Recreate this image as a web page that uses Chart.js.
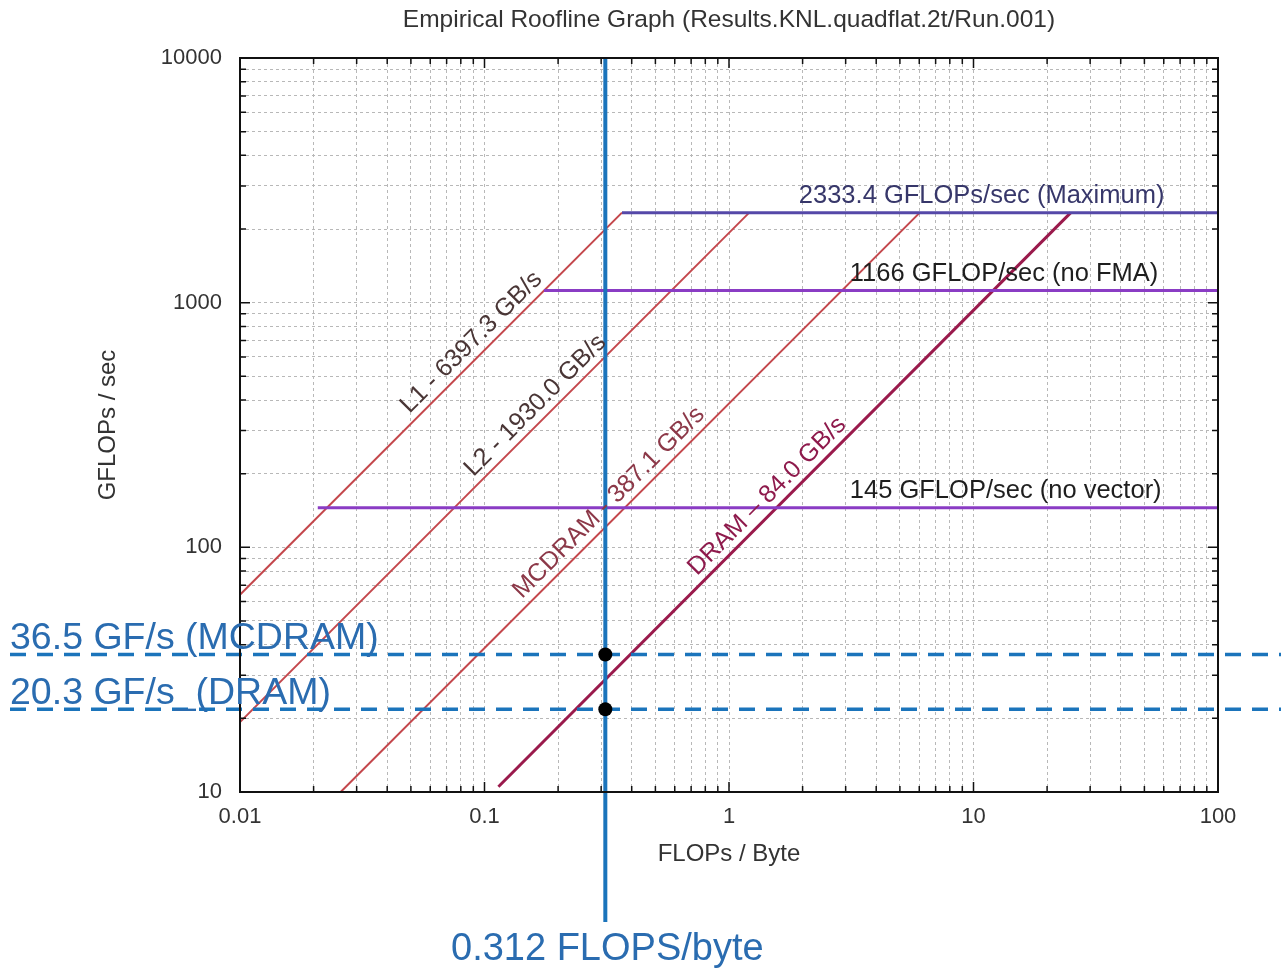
<!DOCTYPE html>
<html lang="en">
<head>
<meta charset="UTF-8">
<title>Empirical Roofline Graph</title>
<script src="https://cdn.jsdelivr.net/npm/chart.js"></script>
<style>
  body { margin: 0; background: #fff; }
  .wrap { width: 1281px; height: 968px; position: relative; }
</style>
</head>
<body>
<div class="wrap"><canvas id="roofline"></canvas></div>
<script>
// bandwidth roofs, x = FLOPs/Byte, y = GFLOPs/sec
const roofNames = ['L1 - 6397.3 GB/s', 'L2 - 1930.0 GB/s', 'MCDRAM - 387.1 GB/s', 'DRAM \u2013 84.0 GB/s'];
const roofX = [[0.01, 0.365], [0.01, 1.21], [0.0258, 6.03], [0.114, 25]];
const roofY = [[64, 2333.4], [19.3, 2333.4], [10, 2333.4], [10.5, 2333.4]];
const roofLabelAt = [0.052, 0.095, 0.15, 0.78];

// compute ceilings
const ceilNames = ['2333.4 GFLOPs/sec (Maximum)', '1166 GFLOP/sec (no FMA)', '145 GFLOP/sec (no vector)'];
const ceilY = [2333.4, 1120, 145];
const ceilFrom = [0.365, 0.175, 0.0208];
const ceilTo = [100, 100, 100];
const ceilLabelAt = [1.93, 3.12, 3.12];

// the kernel that was measured
const kernelAI = 0.312;
const kernelPerf = [36.5, 21.8];
const kernelNames = ['36.5 GF/s (MCDRAM)', '20.3 GF/s_(DRAM)'];
const kernelAILabel = '0.312 FLOPS/byte';

const xTickLabels = ['0.01', '0.1', '1', '10', '100'];
const yTickLabels = ['10', '100', '1000', '10000'];

const FONT = "'Liberation Sans', Arial, sans-serif";
const BLUE = '#1b74bb';
const roofColors = ['#c4474c', '#c4474c', '#c4474c', '#9a1a4c'];
const roofWidths = [2, 2, 2, 3];
const roofTextColors = ['#4a3636', '#4a3636', '#8c3848', '#8e1a4c'];
const ceilColors = ['#5548a8', '#8a3cc4', '#8a3cc4'];
const ceilTextColors = ['#37376a', '#1e1e1e', '#1e1e1e'];

function isDecade(v) {
  const l = Math.log10(v);
  return Math.abs(l - Math.round(l)) < 1e-6;
}
function decadeLabel(list, v) {
  return list.find(t => Math.abs(Math.log10(Number(t)) - Math.log10(v)) < 1e-6) || '';
}
// drop the 1.5 / 15 ticks chart.js adds, keep 1..9 per decade
function keepIntegerTicks(scale) {
  scale.ticks = scale.ticks.filter(t => {
    const m = t.value / Math.pow(10, Math.floor(Math.log10(t.value) + 1e-9));
    return Math.abs(m - Math.round(m)) < 1e-6;
  });
}

const datasets = [];
// index 0 is drawn last -> the dots end up on top
datasets.push({
  data: kernelPerf.map(v => ({ x: kernelAI, y: v })),
  showLine: false, pointRadius: 7, pointBackgroundColor: '#000', pointBorderWidth: 0
});
ceilY.forEach((v, i) => {
  datasets.push({
    data: [{ x: ceilFrom[i], y: v }, { x: ceilTo[i], y: v }],
    showLine: true, pointRadius: 0, borderColor: ceilColors[i], borderWidth: 3
  });
});
roofX.forEach((xs, i) => {
  datasets.push({
    data: [{ x: xs[0], y: roofY[i][0] }, { x: xs[1], y: roofY[i][1] }],
    showLine: true, pointRadius: 0, borderColor: roofColors[i], borderWidth: roofWidths[i]
  });
});

const overlay = {
  id: 'overlay',
  beforeDatasetDraw(chart, args) {
    if (args.index !== 0) return;
    const { ctx, chartArea, scales: { x, y } } = chart;
    ctx.save();
    ctx.strokeStyle = BLUE;
    ctx.lineWidth = 3.5;
    ctx.setLineDash([16, 11]);
    kernelPerf.forEach(v => {
      const py = y.getPixelForValue(v);
      ctx.beginPath(); ctx.moveTo(10, py); ctx.lineTo(chart.width, py); ctx.stroke();
    });
    ctx.setLineDash([]);
    ctx.lineWidth = 4;
    const px = x.getPixelForValue(kernelAI);
    ctx.beginPath(); ctx.moveTo(px, chartArea.top); ctx.lineTo(px, 922); ctx.stroke();
    ctx.restore();
  },
  afterDraw(chart) {
    const { ctx, chartArea: a, scales: { x, y } } = chart;
    ctx.save();

    // frame + inward ticks
    ctx.strokeStyle = '#111';
    ctx.lineWidth = 2;
    ctx.strokeRect(a.left, a.top, a.right - a.left, a.bottom - a.top);
    ctx.lineWidth = 1.5;
    ctx.beginPath();
    x.ticks.forEach(t => {
      const px = x.getPixelForValue(t.value), len = isDecade(t.value) ? 10 : 6;
      ctx.moveTo(px, a.bottom); ctx.lineTo(px, a.bottom - len);
      ctx.moveTo(px, a.top); ctx.lineTo(px, a.top + len);
    });
    y.ticks.forEach(t => {
      const py = y.getPixelForValue(t.value), len = isDecade(t.value) ? 10 : 6;
      ctx.moveTo(a.left, py); ctx.lineTo(a.left + len, py);
      ctx.moveTo(a.right, py); ctx.lineTo(a.right - len, py);
    });
    ctx.stroke();

    // title
    ctx.fillStyle = '#333';
    ctx.font = '24.5px ' + FONT;
    ctx.textAlign = 'center';
    ctx.textBaseline = 'middle';
    ctx.fillText('Empirical Roofline Graph (Results.KNL.quadflat.2t/Run.001)', (a.left + a.right) / 2, 20);

    // roof labels, along the lines
    ctx.textAlign = 'left';
    ctx.textBaseline = 'alphabetic';
    ctx.font = '25px ' + FONT;
    roofNames.forEach((name, i) => {
      const x0 = x.getPixelForValue(roofX[i][0]), y0 = y.getPixelForValue(roofY[i][0]);
      const x1 = x.getPixelForValue(roofX[i][1]), y1 = y.getPixelForValue(roofY[i][1]);
      const lx = x.getPixelForValue(roofLabelAt[i]);
      const ly = y0 + (lx - x0) * (y1 - y0) / (x1 - x0);
      ctx.save();
      ctx.translate(lx, ly);
      ctx.rotate(Math.atan2(y1 - y0, x1 - x0));
      ctx.fillStyle = roofTextColors[i];
      ctx.fillText(name, 0, -8);
      ctx.restore();
    });

    // ceiling labels
    ctx.font = '25.5px ' + FONT;
    ceilNames.forEach((name, i) => {
      ctx.fillStyle = ceilTextColors[i];
      ctx.fillText(name, x.getPixelForValue(ceilLabelAt[i]), y.getPixelForValue(ceilY[i]) - 10);
    });

    // kernel annotations
    ctx.fillStyle = '#2a6cb0';
    ctx.font = '37.5px ' + FONT;
    kernelPerf.forEach((v, i) => {
      ctx.fillText(kernelNames[i], 10, y.getPixelForValue(v) - 5);
    });
    ctx.font = '38px ' + FONT;
    ctx.textAlign = 'center';
    ctx.fillText(kernelAILabel, x.getPixelForValue(kernelAI) + 2, 960);
    ctx.restore();
  }
};

new Chart(document.getElementById('roofline'), {
  type: 'scatter',
  data: { datasets: datasets },
  plugins: [overlay],
  options: {
    responsive: true,
    maintainAspectRatio: false,
    animation: false,
    layout: { padding: { top: 58, right: 63, bottom: 0, left: 0 } },
    plugins: { legend: { display: false }, tooltip: { enabled: false }, title: { display: false } },
    elements: { line: { tension: 0 } },
    scales: {
      x: {
        type: 'logarithmic',
        min: 0.01, max: 100,
        afterBuildTicks: keepIntegerTicks,
        afterFit(s) { s.height = 176; },
        grid: { color: '#b8b8b8', lineWidth: 1, drawTicks: false },
        border: { display: false, dash: [3, 3] },
        ticks: {
          autoSkip: false, maxRotation: 0, padding: 12,
          color: '#333', font: { family: FONT, size: 22 },
          callback: v => isDecade(v) ? decadeLabel(xTickLabels, v) : ''
        },
        title: {
          display: true, text: 'FLOPs / Byte', color: '#333',
          font: { family: FONT, size: 24 }, padding: { top: 0, bottom: 99 }
        }
      },
      y: {
        type: 'logarithmic',
        min: 10, max: 10000,
        afterBuildTicks: keepIntegerTicks,
        afterFit(s) { s.width = 240; },
        grid: { color: '#b8b8b8', lineWidth: 1, drawTicks: false },
        border: { display: false, dash: [3, 3] },
        ticks: {
          autoSkip: false, padding: 18,
          color: '#333', font: { family: FONT, size: 22 },
          callback: v => isDecade(v) ? decadeLabel(yTickLabels, v) : ''
        },
        title: {
          display: true, text: 'GFLOPs / sec', color: '#333',
          font: { family: FONT, size: 24 }, padding: { top: 94, bottom: 0 }
        }
      }
    }
  }
});
</script>
</body>
</html>
